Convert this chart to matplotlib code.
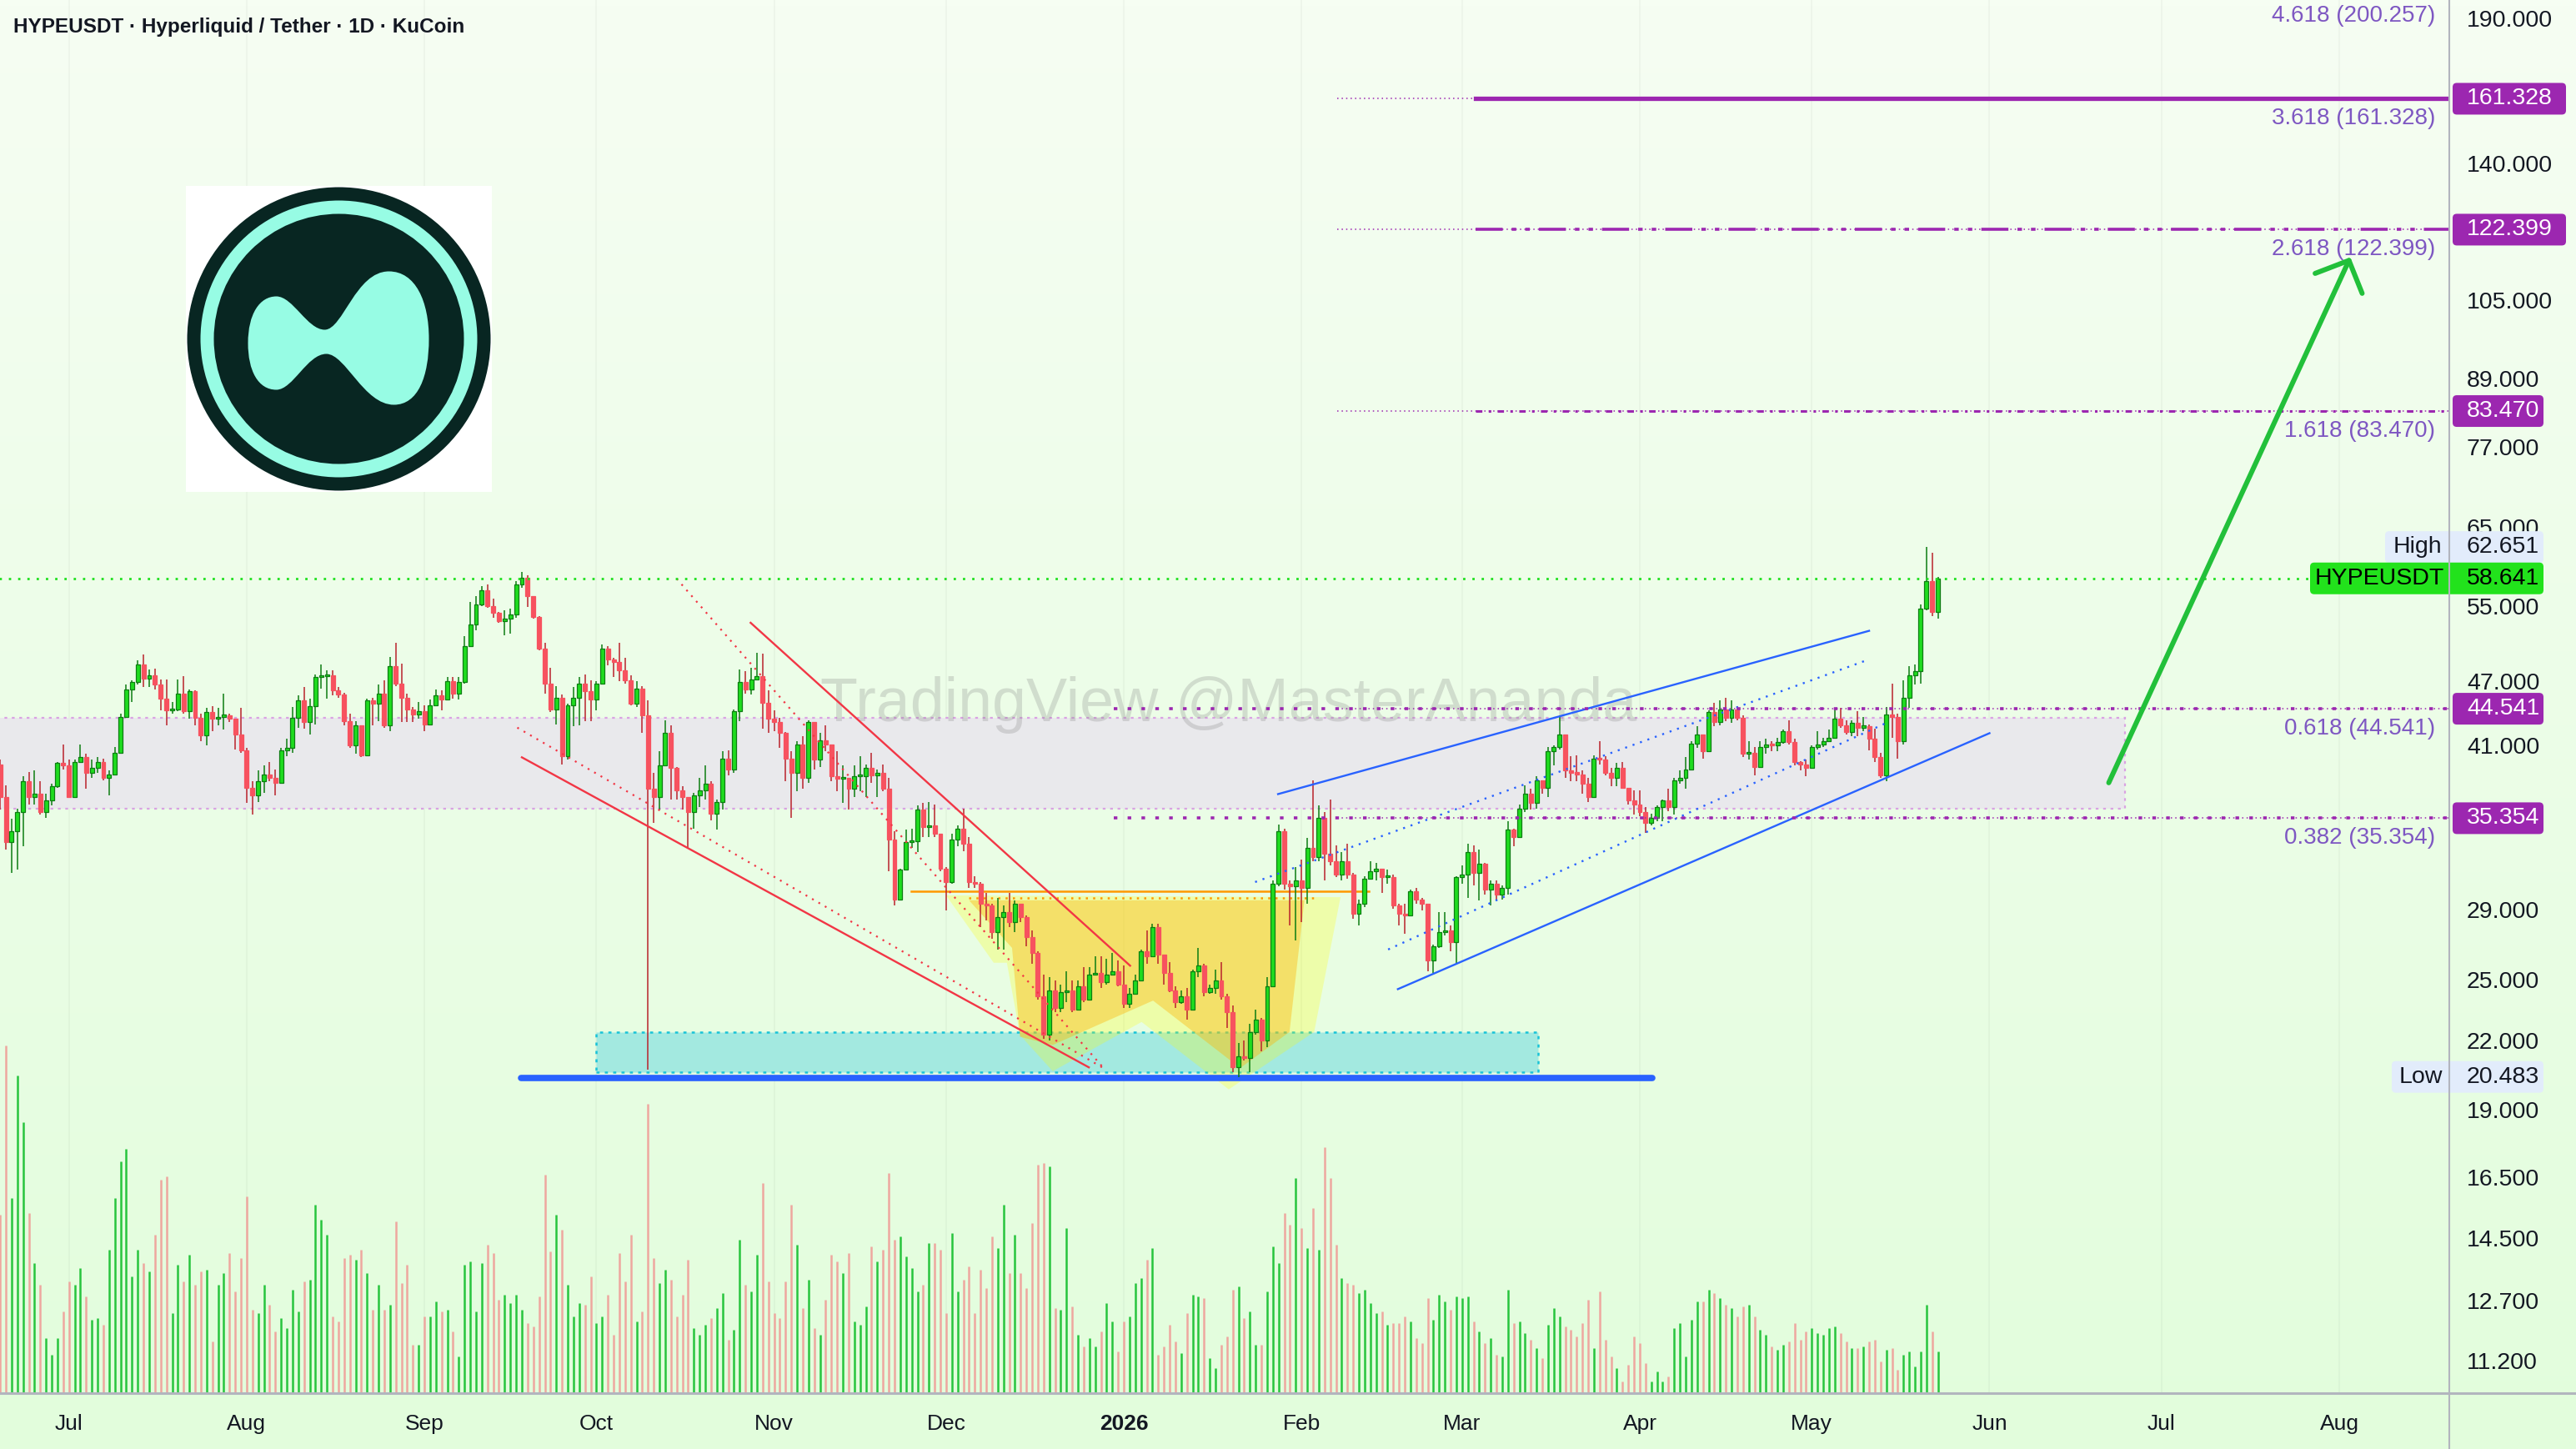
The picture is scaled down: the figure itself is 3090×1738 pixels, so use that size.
"""
HYPEUSDT 1D (KuCoin) - candlestick chart with fib extension levels,
falling wedge, cup area and channel drawings.
"""
import numpy as np
import matplotlib
matplotlib.use("Agg")
import matplotlib.pyplot as plt
from matplotlib import transforms
from matplotlib.lines import Line2D
from matplotlib.patches import Rectangle, Polygon, FancyBboxPatch, Circle, PathPatch
from matplotlib.path import Path

W, H, DPI = 3090, 1738, 100

# ---------------------------------------------------------------- data
first_day = -12          # first candle = 19 Jun 2025 (days from 1 Jul 2025)
first_open = 39.6

closes = [
    37.0, 33.6, 34.4, 35.8, 38.2, 37.0, 37.2, 35.8, 36.7, 37.8,
    39.7, 39.5, 37.0, 39.8, 40.2, 38.9, 39.3, 39.8, 38.5, 38.8,
    40.6, 43.8, 46.4, 47.1, 48.9, 47.5, 47.8, 46.9, 45.5, 44.4,
    44.5, 46.0, 44.3, 46.2, 43.7, 42.1, 44.2, 43.6, 43.8, 43.9,
    43.6, 42.2, 40.8, 37.7, 37.1, 38.2, 38.8, 38.5, 38.1, 40.8,
    41.0, 43.7, 45.3, 43.3, 44.8, 47.6, 47.7, 47.8, 46.3, 45.9,
    43.4, 41.2, 43.0, 40.4, 45.3, 45.0, 46.0, 43.0, 48.7, 47.0,
    45.6, 44.5, 44.0, 44.3, 43.1, 44.9, 45.8, 45.4, 47.2, 46.0,
    47.1, 50.8, 53.2, 55.5, 57.2, 55.3, 54.5, 53.6, 53.9, 54.3,
    57.9, 58.7, 56.5, 54.1, 50.6, 47.0, 44.5, 45.6, 40.3, 44.9,
    45.6, 47.0, 46.2, 45.4, 47.0, 50.6, 49.4, 49.2, 48.3, 47.3,
    45.0, 46.5, 43.9, 37.6, 37.0, 39.5, 42.3, 39.3, 37.5, 37.0,
    35.8, 37.1, 37.5, 38.0, 35.7, 36.6, 40.1, 39.2, 44.3, 47.1,
    46.4, 47.4, 47.7, 45.1, 43.6, 43.3, 42.3, 40.1, 38.9, 41.3,
    38.5, 43.3, 40.0, 41.7, 41.3, 38.6, 38.4, 38.5, 37.6, 38.6,
    38.6, 39.3, 38.7, 38.9, 37.6, 33.8, 29.8, 31.7, 33.6, 33.7,
    36.0, 34.7, 34.8, 34.2, 31.8, 30.9, 33.8, 34.6, 33.5, 30.9,
    30.8, 29.5, 29.4, 27.8, 28.7, 29.0, 28.4, 29.5, 28.7, 27.5,
    26.6, 24.3, 22.4, 24.6, 23.7, 24.5, 24.6, 23.6, 24.8, 24.1,
    25.4, 25.5, 25.0, 25.4, 25.6, 24.9, 23.9, 24.4, 25.1, 26.7,
    26.4, 28.1, 26.5, 25.5, 24.6, 24.0, 24.3, 23.6, 25.6, 25.9,
    24.5, 24.7, 25.1, 24.3, 23.5, 20.9, 21.4, 21.3, 22.5, 23.1,
    22.1, 24.8, 30.8, 34.4, 30.8, 30.6, 31.0, 30.5, 33.2, 32.6,
    35.4, 32.8, 32.3, 31.4, 32.3, 31.4, 28.9, 29.5, 31.1, 31.6,
    31.8, 31.2, 31.2, 29.4, 28.9, 28.8, 30.3, 29.8, 29.5, 26.2,
    27.0, 27.8, 27.9, 27.2, 31.2, 31.4, 32.9, 31.5, 32.1, 30.4,
    30.8, 30.1, 30.5, 34.5, 34.0, 36.1, 37.2, 36.5, 38.3, 37.7,
    40.7, 41.1, 42.2, 39.1, 38.9, 38.8, 38.0, 37.0, 40.1, 40.0,
    38.9, 38.5, 39.3, 37.7, 36.7, 36.4, 35.8, 35.0, 35.4, 36.2,
    36.7, 36.2, 38.3, 38.5, 39.2, 41.4, 42.2, 40.7, 44.2, 43.3,
    44.5, 43.7, 44.5, 43.7, 40.5, 40.6, 39.4, 41.1, 41.3, 41.2,
    41.5, 42.5, 41.5, 39.8, 39.6, 39.3, 41.1, 41.3, 41.6, 41.9,
    43.6, 43.0, 42.4, 43.2, 42.8, 42.9, 41.8, 40.2, 38.7, 44.0,
    43.8, 41.6, 45.6, 47.8, 48.2, 55.0, 58.3, 54.6, 58.641,
]

highs = [
    40.0, 37.9, 35.3, 36.1, 38.6, 39.0, 39.1, 38.2, 37.2, 38.0,
    39.8, 41.3, 40.0, 40.0, 41.3, 40.5, 40.0, 40.2, 40.1, 39.1,
    41.1, 44.1, 46.9, 47.3, 49.3, 49.9, 48.4, 48.5, 47.4, 47.4,
    45.2, 47.4, 47.7, 46.4, 46.3, 44.1, 44.6, 44.8, 44.6, 46.0,
    44.1, 43.6, 44.6, 41.0, 38.2, 39.1, 39.5, 39.8, 39.2, 41.0,
    41.8, 44.7, 45.8, 46.6, 45.5, 47.9, 48.9, 48.3, 48.3, 46.6,
    46.1, 44.1, 43.4, 43.0, 45.5, 45.6, 46.9, 47.3, 49.7, 51.2,
    49.0, 46.0, 44.7, 45.2, 44.9, 45.4, 46.4, 46.3, 47.6, 47.6,
    47.6, 51.9, 55.8, 56.5, 57.7, 57.9, 56.2, 54.6, 54.8, 55.0,
    58.3, 59.4, 59.0, 56.5, 54.2, 51.2, 48.6, 46.7, 45.9, 45.0,
    46.6, 47.6, 47.9, 47.3, 47.2, 51.0, 50.8, 49.6, 51.2, 49.6,
    47.8, 47.2, 46.7, 45.3, 38.9, 40.7, 43.5, 43.0, 39.4, 37.8,
    36.8, 37.3, 38.5, 39.5, 38.2, 36.8, 40.7, 40.8, 44.5, 48.4,
    48.2, 48.6, 50.1, 50.0, 46.3, 44.4, 43.7, 42.4, 40.7, 41.6,
    42.0, 43.5, 43.3, 42.3, 43.0, 41.3, 40.7, 39.5, 38.5, 39.5,
    40.3, 39.6, 40.6, 39.2, 39.6, 38.5, 34.4, 31.8, 34.5, 34.6,
    36.3, 36.5, 36.6, 36.4, 34.2, 31.9, 34.2, 34.8, 36.1, 34.0,
    31.3, 30.9, 30.2, 29.5, 29.9, 29.4, 30.2, 29.7, 29.5, 28.8,
    27.9, 26.7, 25.4, 25.3, 25.1, 24.9, 25.6, 25.1, 25.1, 25.8,
    25.8, 26.4, 26.4, 26.3, 26.6, 26.2, 25.9, 24.7, 25.4, 26.8,
    27.9, 28.3, 28.3, 26.5, 26.1, 24.8, 24.6, 24.7, 25.7, 26.9,
    26.0, 24.9, 25.7, 26.1, 24.4, 23.8, 22.0, 22.1, 22.9, 23.6,
    23.2, 25.3, 31.0, 34.9, 34.6, 31.0, 31.9, 32.4, 33.9, 38.3,
    36.3, 35.8, 36.8, 33.4, 32.9, 33.5, 31.5, 29.8, 31.3, 32.3,
    32.2, 31.8, 31.7, 31.4, 29.5, 29.5, 30.4, 30.5, 29.9, 29.0,
    27.1, 29.0, 29.0, 28.2, 31.3, 32.0, 33.5, 33.4, 33.1, 32.2,
    31.0, 31.0, 30.7, 35.1, 34.6, 36.4, 37.9, 37.6, 38.6, 38.1,
    41.1, 41.2, 43.9, 42.2, 40.3, 40.4, 39.1, 38.5, 40.4, 41.6,
    40.3, 39.3, 39.7, 39.8, 37.6, 37.5, 37.5, 36.2, 35.7, 36.3,
    36.8, 37.6, 38.5, 39.1, 40.2, 41.6, 42.9, 42.2, 44.4, 45.1,
    45.3, 45.6, 45.3, 44.8, 43.9, 41.6, 41.1, 41.6, 41.8, 41.6,
    41.9, 42.6, 43.5, 41.8, 39.9, 40.0, 41.2, 42.5, 41.9, 42.6,
    44.5, 44.6, 43.5, 43.5, 44.3, 43.8, 43.1, 42.7, 40.6, 44.7,
    47.0, 44.1, 47.3, 48.7, 48.9, 55.5, 62.651, 61.9, 58.8,
]

lows = [
    36.0, 33.1, 31.5, 31.7, 33.3, 36.4, 36.4, 35.6, 35.4, 36.3,
    37.7, 39.2, 36.9, 36.9, 39.7, 37.6, 38.5, 38.9, 38.3, 37.1,
    38.9, 40.6, 43.7, 45.2, 46.9, 46.6, 46.6, 46.4, 44.4, 43.0,
    44.1, 44.3, 44.1, 43.6, 43.0, 41.6, 41.2, 42.5, 43.0, 42.6,
    43.3, 40.9, 40.6, 36.5, 35.6, 36.6, 37.3, 38.2, 37.1, 38.1,
    40.3, 40.6, 42.8, 42.7, 42.2, 43.1, 46.5, 45.5, 45.8, 45.6,
    43.0, 41.0, 40.5, 40.2, 40.3, 43.0, 43.4, 42.8, 42.5, 46.7,
    43.3, 43.3, 43.3, 43.6, 42.5, 43.0, 44.9, 44.4, 45.4, 45.5,
    45.4, 47.0, 50.7, 52.6, 55.3, 55.1, 54.0, 53.4, 52.0, 52.2,
    54.0, 57.5, 55.2, 53.9, 50.4, 46.0, 44.2, 43.1, 39.6, 40.0,
    42.9, 43.0, 43.4, 43.4, 44.4, 47.0, 48.8, 47.6, 47.2, 47.0,
    44.9, 44.7, 42.3, 20.8, 35.0, 36.0, 39.5, 36.8, 36.8, 36.0,
    33.2, 34.6, 36.2, 36.8, 35.2, 34.5, 36.0, 38.7, 38.9, 43.4,
    46.0, 45.9, 47.4, 42.7, 42.3, 42.5, 41.0, 38.2, 35.4, 37.4,
    37.6, 38.1, 39.2, 39.4, 40.7, 38.2, 37.4, 36.5, 36.0, 37.0,
    37.4, 37.0, 38.1, 37.0, 37.4, 31.6, 29.4, 29.7, 31.8, 33.2,
    32.9, 34.0, 34.0, 34.0, 31.6, 29.1, 30.8, 33.3, 33.0, 30.5,
    30.5, 28.1, 28.5, 27.4, 26.8, 26.8, 28.1, 27.8, 28.4, 27.0,
    26.0, 24.1, 22.2, 22.1, 23.5, 23.5, 24.0, 23.5, 23.6, 24.0,
    24.2, 25.4, 24.7, 24.9, 25.4, 24.8, 23.7, 23.7, 24.4, 25.2,
    26.0, 26.4, 26.0, 24.9, 24.5, 23.7, 23.9, 23.1, 23.6, 25.3,
    24.3, 24.4, 24.4, 24.1, 22.7, 20.7, 20.483, 21.2, 20.7, 22.4,
    21.6, 21.8, 24.8, 30.6, 30.4, 28.2, 27.3, 28.4, 29.5, 32.3,
    32.3, 31.0, 32.0, 31.2, 31.0, 31.1, 28.6, 28.2, 29.3, 31.1,
    31.0, 30.2, 30.8, 29.2, 28.2, 27.7, 28.9, 29.5, 29.1, 25.6,
    25.5, 26.9, 27.6, 26.7, 26.0, 30.8, 29.9, 30.7, 29.7, 30.1,
    29.4, 29.7, 29.8, 30.1, 33.3, 33.9, 35.8, 36.0, 36.1, 37.2,
    37.0, 39.5, 40.9, 38.5, 38.2, 38.2, 37.2, 36.6, 37.1, 39.6,
    38.7, 37.8, 37.8, 37.6, 36.4, 35.6, 35.5, 34.3, 34.8, 35.1,
    35.1, 35.9, 35.6, 38.0, 37.6, 39.3, 41.0, 40.1, 40.7, 42.9,
    43.0, 43.4, 43.2, 43.5, 40.2, 40.0, 38.7, 39.5, 40.5, 40.7,
    40.7, 41.4, 41.3, 39.5, 39.1, 38.6, 39.5, 40.9, 41.1, 41.5,
    41.9, 42.8, 42.2, 42.0, 42.0, 42.5, 40.8, 39.8, 38.5, 38.2,
    41.9, 40.1, 41.3, 44.6, 46.9, 47.0, 54.8, 54.2, 53.9,
]

# volume, millions
volumes = [
    10.7, 20.8, 11.7, 19.0, 16.2, 10.8, 7.8, 6.5, 3.3, 2.3,
    3.3, 4.9, 6.7, 6.5, 7.5, 5.8, 4.4, 4.5, 4.1, 8.6,
    11.7, 13.9, 14.6, 7.0, 8.6, 7.8, 7.3, 9.5, 12.8, 13.0,
    4.8, 7.7, 6.7, 8.3, 6.5, 7.3, 7.4, 3.1, 6.5, 7.2,
    8.4, 6.1, 8.1, 11.8, 5.0, 4.8, 6.5, 5.3, 3.7, 4.5,
    3.9, 6.2, 4.9, 6.7, 6.8, 11.3, 10.4, 9.5, 4.6, 4.3,
    8.1, 8.3, 8.0, 8.6, 7.2, 5.0, 6.5, 5.0, 5.3, 10.3,
    6.6, 7.7, 2.9, 2.9, 4.6, 4.6, 5.5, 4.9, 5.0, 3.7,
    2.2, 7.7, 7.9, 4.9, 7.8, 8.9, 8.4, 5.6, 5.9, 5.4,
    5.9, 5.0, 4.2, 4.0, 5.8, 13.1, 8.5, 10.7, 9.8, 6.5,
    4.6, 5.4, 5.3, 7.0, 4.2, 4.6, 5.9, 3.5, 8.4, 6.7,
    9.5, 4.3, 4.9, 17.3, 8.1, 6.6, 7.4, 6.8, 4.6, 5.9,
    8.0, 3.9, 3.5, 4.1, 4.5, 5.1, 6.0, 3.2, 3.8, 9.2,
    6.5, 6.1, 8.3, 12.6, 6.7, 4.8, 4.5, 6.7, 11.3, 8.9,
    5.1, 6.8, 3.9, 3.5, 5.6, 8.3, 7.9, 7.2, 8.4, 4.3,
    4.1, 5.2, 8.8, 7.9, 8.6, 13.2, 9.2, 9.4, 8.2, 7.5,
    6.1, 6.5, 9.0, 9.0, 8.6, 4.8, 9.6, 6.1, 6.8, 7.6,
    4.8, 7.4, 6.3, 9.4, 8.7, 11.3, 7.2, 9.5, 7.2, 6.3,
    10.2, 13.7, 13.8, 13.6, 5.1, 5.0, 9.9, 5.2, 3.5, 2.8,
    3.3, 2.8, 3.7, 5.4, 4.3, 2.5, 4.3, 4.6, 6.6, 6.9,
    8.0, 8.7, 2.3, 2.8, 4.1, 3.1, 2.4, 4.8, 5.9, 5.8,
    5.7, 2.1, 1.5, 2.9, 3.4, 6.2, 6.4, 4.5, 4.9, 2.9,
    2.9, 6.1, 8.8, 7.8, 10.8, 10.1, 12.9, 9.9, 8.7, 11.1,
    8.6, 14.7, 12.9, 8.9, 6.9, 6.6, 6.5, 6.0, 6.2, 5.4,
    4.8, 4.9, 4.1, 4.2, 4.2, 4.6, 4.3, 3.3, 3.0, 5.7,
    4.4, 5.9, 5.5, 5.0, 5.8, 5.7, 5.8, 4.3, 3.7, 3.0,
    3.3, 2.3, 2.2, 6.2, 4.2, 4.3, 3.6, 3.2, 2.7, 2.1,
    4.1, 5.1, 4.6, 4.0, 3.8, 3.4, 4.2, 5.6, 2.7, 6.1,
    3.2, 2.2, 1.5, 0.7, 1.7, 3.4, 3.0, 1.8, 0.7, 1.3,
    0.7, 1.0, 3.9, 4.2, 2.2, 4.4, 5.5, 5.5, 6.2, 6.0,
    5.7, 5.3, 5.1, 4.6, 5.2, 5.3, 4.6, 3.8, 3.5, 2.8,
    2.6, 2.9, 3.1, 4.2, 3.2, 3.7, 3.9, 3.6, 3.5, 3.9,
    4.0, 3.6, 3.1, 2.7, 2.7, 2.8, 3.1, 3.2, 1.9, 2.6,
    2.7, 1.4, 2.3, 2.5, 1.6, 2.5, 5.3, 3.7, 2.5,
]

month_days = [0, 31, 62, 92, 123, 153, 184, 215, 243, 274, 304, 335, 365, 396]
month_names = ["Jul", "Aug", "Sep", "Oct", "Nov", "Dec", "2026",
               "Feb", "Mar", "Apr", "May", "Jun", "Jul", "Aug"]
# scale labels not hidden behind a level tag
price_ticks = [190, 140, 105, 89, 77, 65, 55, 47, 41, 29, 25, 22,
               19, 16.5, 14.5, 12.7, 11.2]

fib_ratios = ["0.382", "0.618", "1.618", "2.618", "3.618", "4.618"]
fib_prices = [35.354, 44.541, 83.470, 122.399, 161.328, 200.257]

last_price = 58.641
high_price = 62.651
low_price = 20.483

# drawings (x in days from 1 Jul 2025, y in price)
grey_zone = (-20.0, 358.7, 36.1, 43.7)
cyan_zone = (92.0, 256.2, 20.7, 22.5)
support_line = ([78.8, 276.2], [20.45, 20.45])
orange_solid = ([146.9, 226.7], [30.3, 30.3])
orange_dotted = ([156.9, 217.8], [29.9, 29.9])
wedge_solid = [([118.9, 185.1], [53.4, 25.9]), ([79.0, 177.9], [40.2, 20.9])]
wedge_dotted = [([106.0, 180.7], [58.6, 20.8]), ([78.2, 180.9], [42.8, 20.8])]
channel_solid = [([210.9, 314.0], [37.2, 52.5]), ([231.8, 335.0], [24.65, 42.3])]
channel_dotted = [([206.9, 313.4], [30.9, 49.3]), ([230.1, 316.9], [26.8, 43.2])]
arrow_shaft = ([355.8, 397.7], [38.1, 114.7])
arrow_head = ([391.8, 397.7, 400.0], [111.6, 114.7, 107.0])
pale_days = [153.0, 161.3, 163.6, 165.9, 171.6, 187.1, 202.3, 217.2, 221.8]
pale_prices = [30.04, 26.06, 26.06, 22.37, 20.73, 23.0, 19.95, 22.52, 29.93]
cup_days = [157.0, 164.5, 165.9, 171.6, 189.1, 204.3, 212.9, 215.5]
cup_prices = [29.73, 26.89, 22.29, 21.91, 24.06, 20.87, 22.52, 29.73]

fib_thin_start = 221.2
level_start_low = 182.2
level_start_high = 245.3

PURPLE = "#9c27b0"
FIB_TXT = "#7e57c2"
BLUE = "#2962ff"
RED = "#f23645"
ORANGE = "#ff9800"
TXT = "#131722"
FONT = "Liberation Sans"


def main():
    fig = plt.figure(figsize=(W / DPI, H / DPI), dpi=DPI)
    ident = transforms.IdentityTransform()

    # background gradient
    bg = fig.add_axes([0, 0, 1, 1], zorder=0)
    bg.set_axis_off()
    top = np.array([246, 254, 243]) / 255
    bot = np.array([226, 253, 220]) / 255
    t = np.linspace(0, 1, 256)[:, None, None]
    bg.imshow(top * (1 - t) + bot * t, aspect="auto", extent=(0, 1, 0, 1))

    ax = fig.add_axes([0, 67 / H, 2938 / W, 1671 / H], zorder=1)
    ax.set_facecolor("none")
    ax.set_axis_off()
    ax.set_yscale("log")

    n = len(closes)
    x = np.arange(n) + first_day
    c = np.array(closes)
    o = np.r_[first_open, c[:-1]]
    hi = np.maximum(np.array(highs), np.maximum(o, c))
    lo = np.minimum(np.array(lows), np.minimum(o, c))
    up = c >= o

    # month grid
    for d in month_days:
        ax.axvline(d, color=(0, 0, 0, 0.035), lw=1.2, zorder=0.5)

    # volume (bottom quarter)
    vol_cols = np.where(up, "#27c43d", "#eea79f")
    ax.vlines(x, 0, np.array(volumes) / 83.4, transform=ax.get_xaxis_transform(),
              colors=vol_cols, lw=1.8, zorder=1)

    # zones
    x0, x1, p0, p1 = grey_zone
    ax.add_patch(Rectangle((x0, p0), x1 - x0, p1 - p0, fc="#e9e9ec", ec="#d9a2e2",
                           lw=1.6, ls=(0, (1.5, 2.5)), zorder=1.5))
    x0, x1, p0, p1 = cyan_zone
    ax.add_patch(Rectangle((x0, p0), x1 - x0, p1 - p0, fc="#a3e9e0", ec="#19c3d8",
                           lw=1.8, ls=(0, (1.5, 2.5)), zorder=1.6))
    ax.add_patch(Polygon(np.c_[pale_days, pale_prices], closed=True,
                         fc="#ffff00", alpha=0.25, ec="none", zorder=1.7))
    ax.add_patch(Polygon(np.c_[cup_days, cup_prices], closed=True,
                         fc="#ffb300", alpha=0.38, ec="none", zorder=1.8))

    ax.text(1474, H - 846, "TradingView @MasterAnanda", transform=ident,
            ha="center", va="center", family=FONT, fontsize=53,
            color="#8a8a8a", alpha=0.28, zorder=2)

    ax.plot(*support_line, color=BLUE, lw=5.5, solid_capstyle="round", zorder=2.5)
    ax.plot(*orange_solid, color=ORANGE, lw=1.8, zorder=2.5)
    ax.plot(*orange_dotted, color=ORANGE, lw=1.8, ls=(0, (1, 2.5)), zorder=2.5)

    # candles
    wick_cols = np.where(up, "#0d7d12", "#b9222c")
    ax.vlines(x, lo, hi, colors=wick_cols, lw=1.1, zorder=3)
    body_lo = np.minimum(o, c)
    body_h = np.maximum(np.abs(c - o), c * 0.004)
    ax.bar(x, body_h, bottom=body_lo, width=0.72,
           color=np.where(up, "#1fdc1f", "#f7525f"),
           edgecolor=np.where(up, "#0d7d12", "#f7525f"), lw=0.9, zorder=3.2)

    # wedge / channel drawings
    for xs, ys in wedge_solid:
        ax.plot(xs, ys, color=RED, lw=1.7, zorder=4)
    for xs, ys in wedge_dotted:
        ax.plot(xs, ys, color=RED, lw=1.6, ls=(0, (1, 3)), zorder=4)
    for xs, ys in channel_solid:
        ax.plot(xs, ys, color=BLUE, lw=1.7, zorder=4)
    for xs, ys in channel_dotted:
        ax.plot(xs, ys, color=BLUE, lw=1.7, ls=(0, (1, 3)), zorder=4)

    # fib extension + level lines
    for p in fib_prices:
        ax.plot([fib_thin_start, 420], [p, p], color=PURPLE, lw=1.1,
                ls=(0, (1, 2.5)), zorder=4)
    for p in fib_prices[:2]:
        ax.plot([level_start_low, 420], [p, p], color=PURPLE, lw=2.6,
                ls=(0, (1.2, 3.4)), solid_capstyle="butt", zorder=4)
    ax.plot([level_start_high, 420], [83.470] * 2, color=PURPLE, lw=2.2,
            ls=(0, (2.5, 2.5, 1, 2.5)), zorder=4)
    ax.plot([level_start_high, 420], [122.399] * 2, color=PURPLE, lw=2.6,
            ls=(0, (9, 3, 1.5, 3, 1.5, 3)), zorder=4)
    ax.plot([level_start_high, 420], [161.328] * 2, color=PURPLE, lw=3.8, zorder=4)

    ax.plot([-20, 420], [last_price] * 2, color="#20e020", lw=2.0,
            ls=(0, (1, 3)), zorder=4)

    ax.plot(*arrow_shaft, color="#22c03a", lw=4.3, solid_capstyle="round", zorder=5)
    ax.plot(*arrow_head, color="#22c03a", lw=4.3, solid_capstyle="round",
            solid_joinstyle="round", zorder=5)

    ax.set_xlim(-12.03, 415.2)
    ax.set_ylim(10.51, 198.7)

    def ypix(price):
        return ax.transData.transform((0.0, price))[1]

    def xpix(day):
        return ax.transData.transform((day, 20.0))[0]

    # price scale
    ax_txt = dict(family=FONT, fontsize=20.5, va="center", ha="left")
    for tk in price_ticks:
        fig.text(2959, ypix(tk), f"{tk:.3f}", transform=ident, color=TXT,
                 zorder=3, **ax_txt)

    def tag(price, text, face, right, fg="white", label=None, left=2942):
        y = ypix(price)
        fig.add_artist(FancyBboxPatch((left, y - 19), right - left, 38,
                                      boxstyle="round,pad=0,rounding_size=5",
                                      transform=ident, fc=face, ec="none", zorder=4))
        fig.text(2959, y, text, transform=ident, color=fg, zorder=5, **ax_txt)
        if label:
            fig.text((left + 2938) / 2, y, label, transform=ident, color=fg,
                     family=FONT, fontsize=20.5, ha="center", va="center", zorder=5)

    tag(161.328, "161.328", PURPLE, 3078)
    tag(122.399, "122.399", PURPLE, 3078)
    tag(83.470, "83.470", PURPLE, 3051)
    tag(44.541, "44.541", PURPLE, 3051)
    tag(35.354, "35.354", PURPLE, 3051)
    tag(high_price, "62.651", "#e2ecfb", 3051, fg=TXT, label="High", left=2861)
    tag(last_price, "58.641", "#22e21c", 3051, fg="#000000", label="HYPEUSDT", left=2771)
    tag(low_price, "20.483", "#e2ecfb", 3051, fg=TXT, label="Low", left=2869)

    for r, p in zip(fib_ratios, fib_prices):
        fig.text(2921, ypix(p) - 23.5, f"{r} ({p:.3f})", transform=ident,
                 color=FIB_TXT, family=FONT, fontsize=20, ha="right", va="center",
                 zorder=3)

    # separators
    fig.add_artist(Line2D([2938, 2938], [0, H], transform=ident, color="#b2b5be",
                          lw=1.5, zorder=6))
    fig.add_artist(Line2D([0, W], [67, 67], transform=ident, color="#b2b5be",
                          lw=2.2, zorder=6))

    # time axis
    for d, name in zip(month_days, month_names):
        fig.text(xpix(d), 30, name, transform=ident, color=TXT, family=FONT,
                 fontsize=19, ha="center", va="center",
                 weight="bold" if name == "2026" else "normal")

    fig.text(16, H - 33, "HYPEUSDT · Hyperliquid / Tether · 1D · KuCoin",
             transform=ident, color=TXT, family=FONT, fontsize=17.5,
             weight="bold", ha="left", va="center")

    # coin logo
    lg = fig.add_axes([223 / W, 1 - 590 / H, 367 / W, 367 / H], zorder=2)
    lg.set_axis_off()
    lg.set_xlim(-183.5, 183.5)
    lg.set_ylim(-183.5, 183.5)
    lg.add_patch(Rectangle((-183.5, -183.5), 367, 367, fc="white", ec="none"))
    lg.add_patch(Circle((0, 0), 182, fc="#082622", ec="none"))
    lg.add_patch(Circle((0, 0), 166, fc="#97fce4", ec="none"))
    lg.add_patch(Circle((0, 0), 150, fc="#082622", ec="none"))
    verts = [(-109, -5),
             (-109, 30), (-95, 51), (-75, 51),
             (-55, 51), (-38, 11), (-17, 11),
             (5, 11), (20, 81), (60, 81),
             (92, 81), (108, 45), (108, 0),
             (108, -45), (95, -79), (66, -79),
             (30, -79), (8, -18), (-15, -18),
             (-38, -18), (-55, -61), (-75, -61),
             (-97, -61), (-109, -38), (-109, -5),
             (-109, -5)]
    codes = [Path.MOVETO] + [Path.CURVE4] * 24 + [Path.CLOSEPOLY]
    lg.add_patch(PathPatch(Path(verts, codes), fc="#97fce4", ec="none"))

    fig.savefig("out.png", dpi=DPI)
    plt.close(fig)


if __name__ == "__main__":
    main()
